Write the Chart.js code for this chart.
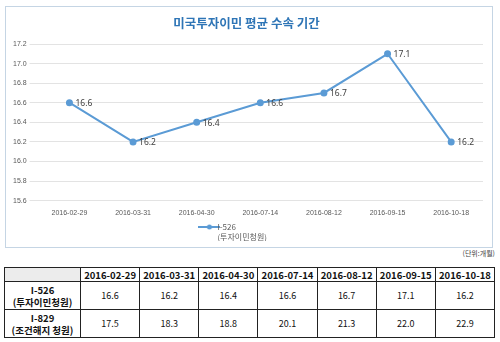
<!DOCTYPE html>
<html>
<head>
<meta charset="utf-8">
<script src="https://cdn.jsdelivr.net/npm/chart.js@4.4.0/dist/chart.umd.min.js"></script>
<style>
  html, body { margin: 0; padding: 0; background: #fff; }
  body { width: 500px; height: 342px; position: relative; overflow: hidden; font-family: "Noto Sans CJK KR", "Noto Sans", sans-serif; }
  #box { position: absolute; left: 5px; top: 6px; width: 486px; height: 240px; border: 1px solid #c5d5e4; }
  #unit { position: absolute; right: 5px; top: 248px; font-size: 7px; color: #444; }
  table { position: absolute; left: 4px; top: 267px; width: 491px; border-collapse: collapse; table-layout: fixed; }
  td, th { border: 1px solid #222; text-align: center; padding: 0; color: #111; }
  th { font-size: 9.5px; font-weight: bold; height: 13px; line-height: 12px; }
  td { font-size: 9px; height: 27px; line-height: 12px; }
  td.head { font-weight: bold; font-size: 9.5px; }
  th.blank { background: #ececec; }
</style>
</head>
<body>
<div id="box"><canvas id="chart" width="486" height="240"></canvas></div>
<div id="unit">(단위:개월)</div>
<table id="tbl"></table>
<script>
// ---------- data ----------
const dates = ['2016-02-29', '2016-03-31', '2016-04-30', '2016-07-14', '2016-08-12', '2016-09-15', '2016-10-18'];
const i526 = [16.6, 16.2, 16.4, 16.6, 16.7, 17.1, 16.2];
const i829 = [17.5, 18.3, 18.8, 20.1, 21.3, 22.0, 22.9];
const seriesNames = [['I-526', '(투자이민청원)'], ['I-829', '(조건해지 청원)']];
const chartTitle = '미국투자이민 평균 수속 기간';

const lineColor = '#5b9bd5';

// ---------- table ----------
const tbl = document.getElementById('tbl');
let html = '<colgroup><col style="width:76px">' + dates.map(() => '<col>').join('') + '</colgroup>';
html += '<tr><th class="blank"></th>' + dates.map(d => '<th>' + d + '</th>').join('') + '</tr>';
[i526, i829].forEach((vals, i) => {
    html += '<tr><td class="head">' + seriesNames[i].join('<br>') + '</td>' +
        vals.map(v => '<td>' + v.toFixed(1) + '</td>').join('') + '</tr>';
});
tbl.innerHTML = html;

// legend marker: line with a dot (excel style)
const marker = document.createElement('canvas');
marker.width = 22;
marker.height = 6;
const mctx = marker.getContext('2d');
mctx.strokeStyle = lineColor;
mctx.lineWidth = 2;
mctx.beginPath();
mctx.moveTo(0, 3);
mctx.lineTo(22, 3);
mctx.stroke();
mctx.fillStyle = lineColor;
mctx.beginPath();
mctx.arc(11, 3, 2.5, 0, Math.PI * 2);
mctx.fill();

// ---------- value labels ----------
const valueLabels = {
    id: 'valueLabels',
    afterDatasetsDraw(chart) {
        const ctx = chart.ctx;
        const meta = chart.getDatasetMeta(0);
        ctx.save();
        ctx.font = '8.5px "Noto Sans", sans-serif';
        ctx.fillStyle = '#404040';
        ctx.textBaseline = 'middle';
        meta.data.forEach((pt, i) => {
            ctx.fillText(chart.data.datasets[0].data[i].toFixed(1), pt.x + 6, pt.y + 1);
        });
        ctx.restore();
    }
};

// ---------- chart ----------
new Chart(document.getElementById('chart'), {
    type: 'line',
    data: {
        labels: dates,
        datasets: [{
            label: seriesNames[0],
            data: i526,
            borderColor: lineColor,
            backgroundColor: lineColor,
            borderWidth: 2,
            pointStyle: 'circle',
            pointRadius: 2.5,
            pointHoverRadius: 2.5,
            tension: 0
        }]
    },
    options: {
        responsive: false,
        animation: false,
        layout: { padding: { left: 4, right: 9, top: 4, bottom: 6 } },
        plugins: {
            title: {
                display: true,
                text: chartTitle,
                color: '#2e75b6',
                font: { size: 12.5, weight: 'bold', family: '"Noto Sans CJK KR"' },
                padding: { top: 5, bottom: 13 }
            },
            legend: {
                position: 'bottom',
                labels: {
                    usePointStyle: true,
                    padding: 6,
                    color: '#595959',
                    font: { size: 8, family: '"Noto Sans CJK KR"' },
                    generateLabels(chart) {
                        return chart.data.datasets.map((ds, i) => ({
                            text: ds.label,
                            fontColor: '#595959',
                            pointStyle: marker,
                            datasetIndex: i,
                            lineWidth: 0
                        }));
                    }
                }
            },
            tooltip: { enabled: false }
        },
        scales: {
            x: {
                offset: true,
                grid: { display: false },
                border: { display: false },
                ticks: { color: '#595959', font: { size: 7 }, maxRotation: 0, padding: 0 }
            },
            y: {
                min: 15.6,
                max: 17.2,
                grid: { color: '#e3e3e3' },
                border: { display: false },
                ticks: {
                    stepSize: 0.2,
                    color: '#595959',
                    font: { size: 7 },
                    callback: v => v.toFixed(1)
                }
            }
        }
    },
    plugins: [valueLabels]
});
</script>
</body>
</html>
